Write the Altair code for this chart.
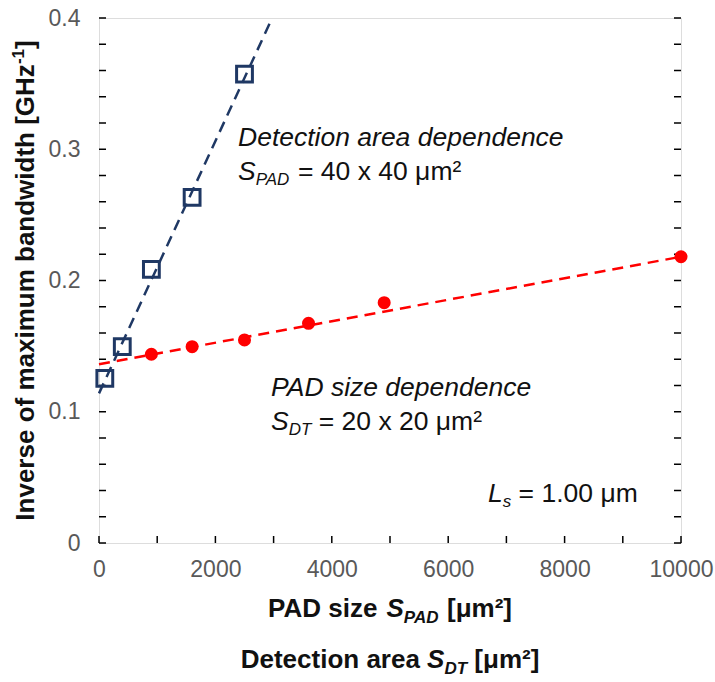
import altair as alt
import pandas as pd

# ---------------- data ----------------
det_x = [100, 400, 900, 1600, 2500]                 # detection area S_DT [um^2]
det_y = [0.1255, 0.1496, 0.2085, 0.2634, 0.3573]    # 1/f_max [GHz^-1]
pad_x = [900, 1600, 2500, 3600, 4900, 10000]        # PAD size S_PAD [um^2]
pad_y = [0.1438, 0.1496, 0.1547, 0.1674, 0.1831, 0.2181]
det_fit_x = [0, 2938]
det_fit_y = [0.114, 0.3964]
pad_fit_x = [0, 10000]
pad_fit_y = [0.1362, 0.2181]
x_tick_labels = [0, 2000, 4000, 6000, 8000, 10000]
y_tick_labels = [0, 0.1, 0.2, 0.3, 0.4]
x_minor_ticks = [0, 1000, 2000, 3000, 4000, 5000, 6000, 7000, 8000, 9000, 10000]
y_minor_ticks = [0, 0.02, 0.04, 0.06, 0.08, 0.1, 0.12, 0.14, 0.16, 0.18, 0.2,
                 0.22, 0.24, 0.26, 0.28, 0.3, 0.32, 0.34, 0.36, 0.38, 0.4]

NAVY = "#1F3864"
RED = "#FF0000"
FONT = "Liberation Sans"
W, H = 582, 525
PL, PT = 99, 18

xs = alt.Scale(domain=[0, 10000], nice=False, zero=False)
ys = alt.Scale(domain=[0, 0.4], nice=False, zero=False)
xax = alt.Axis(values=x_tick_labels, grid=False, ticks=False, domain=False, title=None,
               format="d", labelFont=FONT, labelFontSize=23, labelColor="#595959",
               labelPadding=15, labelFlush=False)
yax = alt.Axis(values=y_tick_labels, grid=False, ticks=False, domain=False, title=None,
               format="~g", labelFont=FONT, labelFontSize=23, labelColor="#595959",
               labelPadding=19)

# ---------------- marks ----------------
det_df = pd.DataFrame({"x": det_x, "y": det_y})
pad_df = pd.DataFrame({"x": pad_x, "y": pad_y})
det_fit = pd.DataFrame({"x": det_fit_x, "y": det_fit_y})
pad_fit = pd.DataFrame({"x": pad_fit_x, "y": pad_fit_y})

def enc(c):
    return c.encode(x=alt.X("x:Q", scale=xs, axis=xax), y=alt.Y("y:Q", scale=ys, axis=yax))

det_line = enc(alt.Chart(det_fit).mark_line(color=NAVY, strokeWidth=2.5, strokeDash=[11, 7]))
pad_line = enc(alt.Chart(pad_fit).mark_line(color=RED, strokeWidth=2.5, strokeDash=[11, 7]))
det_pts = enc(alt.Chart(det_df).mark_point(shape="square", filled=False, size=250,
                                           strokeWidth=3, color=NAVY, opacity=1))
pad_pts = enc(alt.Chart(pad_df).mark_circle(size=170, color=RED, opacity=1))

# inward ticks
ydf = pd.DataFrame({"y": y_minor_ticks})
xdf = pd.DataFrame({"x": x_minor_ticks})
left_ticks = alt.Chart(ydf).mark_rule(color="black", strokeWidth=1.5).encode(
    y=alt.Y("y:Q", scale=ys, axis=yax), x=alt.value(0), x2=alt.value(7))
right_ticks = alt.Chart(ydf).mark_rule(color="black", strokeWidth=1.5).encode(
    y=alt.Y("y:Q", scale=ys, axis=yax), x=alt.value(W - 7), x2=alt.value(W))
bottom_ticks = alt.Chart(xdf).mark_rule(color="black", strokeWidth=1.5).encode(
    x=alt.X("x:Q", scale=xs, axis=xax), y=alt.value(H), y2=alt.value(H - 7))

# ---------------- text helpers ----------------
REG = {' ': 278, '=': 584, '.': 278, 'x': 500, 'μ': 576, 'm': 833, '²': 333, 'L': 556,
       's': 500, 'S': 667, 'P': 667, 'A': 667, 'D': 722, 'T': 611, 'e': 556, 't': 278,
       'c': 500, 'i': 222, 'o': 556, 'n': 556, 'a': 556, 'r': 333, 'd': 556, 'p': 556,
       'z': 500, '[': 278, ']': 278, '-': 333}
BOLD = {' ': 278, 'P': 667, 'A': 722, 'D': 722, 'T': 611, 'S': 667, 's': 556, 'i': 278,
        'z': 500, 'e': 556, 't': 333, 'c': 556, 'o': 611, 'n': 611, 'a': 556, 'r': 389,
        '[': 333, ']': 333, 'μ': 611, 'm': 889, '²': 333, 'I': 278, 'v': 556, 'f': 333,
        'x': 556, 'u': 611, 'b': 611, 'd': 611, 'w': 778, 'h': 611, 'G': 778, 'H': 722,
        '-': 333}

def tw(s, size, bold):
    tab = BOLD if bold else REG
    return sum(tab.get(ch, 556) for ch in s) * size / 1000.0

def seg(text, x, y, size, bold=False, italic=False, color="#111111", angle=0):
    kw = dict(text=text, font=FONT, fontSize=size, align="left", baseline="alphabetic",
              color=color, fontWeight="bold" if bold else "normal",
              fontStyle="italic" if italic else "normal")
    if angle:
        kw["angle"] = angle
    return alt.Chart(pd.DataFrame({"a": [0]})).mark_text(**kw).encode(
        x=alt.value(x), y=alt.value(y))

def rich(parts, x0, y0, center=False):
    # parts: (text, size, bold, italic, dy)
    total = sum(tw(p[0], p[1], p[2]) for p in parts)
    x = x0 - total / 2 if center else x0
    out = []
    for text, size, bold, italic, dy in parts:
        stripped = text.lstrip(" ")
        lead = tw(text[:len(text) - len(stripped)], size, bold)
        out.append(seg(stripped, x + lead, y0 + dy, size, bold, italic))
        x += tw(text, size, bold)
    return out

S, SUB, SD = 26.5, 17, 5
TS = 26
texts = []
# annotations (plot coords)
texts += rich([("Detection area dependence", S, False, True, 0)], 238 - PL, 146 - PT)
texts += rich([("S", S, False, True, 0), ("PAD", SUB, False, True, SD),
               (" = 40 x 40 μm²", S, False, False, 0)], 238 - PL, 180 - PT)
texts += rich([("PAD size dependence", S, False, True, 0)], 271 - PL, 396 - PT)
texts += rich([("S", S, False, True, 0), ("DT", SUB, False, True, SD),
               (" = 20 x 20 μm²", S, False, False, 0)], 271 - PL, 430 - PT)
texts += rich([("L", S, False, True, 0), ("s", SUB, False, True, SD),
               (" = 1.00 μm", S, False, False, 0)], 488 - PL, 502 - PT)
# x-axis titles
texts += rich([("PAD size ", TS, True, False, 0), ("S", TS, True, True, 0),
               ("PAD", SUB, True, True, SD + 1), (" [μm²]", TS, True, False, 0)],
              W / 2, 617 - PT, center=True)
texts += rich([("Detection area ", TS, True, False, 0), ("S", TS, True, True, 0),
               ("DT", SUB, True, True, SD + 1), (" [μm²]", TS, True, False, 0)],
              W / 2, 668 - PT, center=True)
# y-axis title (rotated)
ymain = "Inverse of maximum bandwidth [GHz"
ysup = "-1"
yend = "]"
tot = tw(ymain, TS, True) + tw(ysup, SUB, True) + tw(yend, TS, True)
ystart = H / 2 + tot / 2
xb = 34 - PL
texts.append(seg(ymain, xb, ystart, TS, bold=True, angle=270))
texts.append(seg(ysup, xb - 10, ystart - tw(ymain, TS, True), SUB, bold=True, angle=270))
texts.append(seg(yend, xb, ystart - tw(ymain, TS, True) - tw(ysup, SUB, True), TS,
                 bold=True, angle=270))

chart = alt.layer(
    left_ticks, right_ticks, bottom_ticks,
    pad_line, det_line, pad_pts, det_pts,
    *texts
).properties(
    width=W, height=H,
    padding={"left": PL, "top": PT, "right": 715 - PL - W, "bottom": 682 - PT - H},
    autosize=alt.AutoSizeParams(type="none"),
).configure_view(stroke="black", strokeWidth=2).configure(background="white")

chart.save("out.html", embed_options={"renderer": "svg", "actions": False})
